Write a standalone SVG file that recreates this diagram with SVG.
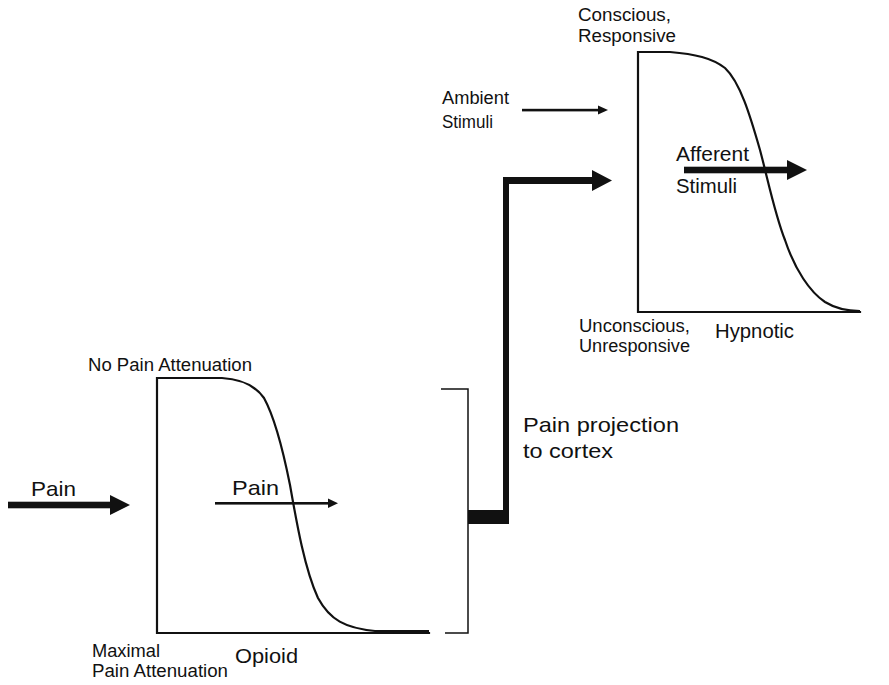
<svg xmlns="http://www.w3.org/2000/svg" width="889" height="685" viewBox="0 0 889 685">
  <style>
    text { font-family: "Liberation Sans", Arial, Helvetica, sans-serif; fill: #111; }
    .sm { font-size: 17.5px; }
    .lg { font-size: 21px; }
    .axis { fill: none; stroke: #111; stroke-width: 2.2; stroke-linecap: square; }
    .curve { fill: none; stroke: #111; stroke-width: 2.2; stroke-linejoin: round; }
    .ink { fill: #111; }
    .thin { fill: none; stroke: #111; stroke-width: 1.5; }
  </style>
  <rect width="889" height="685" fill="#fff"/>

  <!-- Opioid dose-response plot -->
  <g id="opioid-plot">
    <path class="axis" d="M157,378 V633 H395"/>
    <path class="axis" d="M395,633 H429" stroke-width="3.5"/>
    <path class="curve" d="M157,378 H222 C240,379 254,384 264,398 C275,418 283,450 290,485 C297,525 305,570 318,598 C330,620 345,628 375,631 H429"/>
    <text class="sm" x="88" y="371" textLength="164" lengthAdjust="spacingAndGlyphs">No Pain Attenuation</text>
    <text class="sm" x="92" y="657" textLength="68" lengthAdjust="spacingAndGlyphs">Maximal</text>
    <text class="sm" x="92" y="677" textLength="136" lengthAdjust="spacingAndGlyphs">Pain Attenuation</text>
    <text class="lg" x="235" y="663" textLength="63" lengthAdjust="spacingAndGlyphs">Opioid</text>
  </g>

  <!-- Hypnotic dose-response plot -->
  <g id="hypnotic-plot">
    <path class="axis" d="M638,52 V312 H860"/>
    <path class="curve" d="M638,52 H670 C695,54 712,58 725,68 C740,82 750,115 760,150 C768,180 775,215 785,240 C795,270 810,292 825,302 C838,310 850,311 860,311"/>
    <text class="sm" x="578" y="21" textLength="93" lengthAdjust="spacingAndGlyphs">Conscious,</text>
    <text class="sm" x="578" y="42" textLength="98" lengthAdjust="spacingAndGlyphs">Responsive</text>
    <text class="sm" x="579" y="332" textLength="111" lengthAdjust="spacingAndGlyphs">Unconscious,</text>
    <text class="sm" x="579" y="352" textLength="111" lengthAdjust="spacingAndGlyphs">Unresponsive</text>
    <text class="lg" x="715" y="338" textLength="79" lengthAdjust="spacingAndGlyphs">Hypnotic</text>
  </g>

  <!-- Input label nodes -->
  <g id="pain-input">
    <text class="lg" x="31" y="496" font-size="22" textLength="45" lengthAdjust="spacingAndGlyphs">Pain</text>
  </g>
  <g id="pain-through">
    <text class="lg" x="232" y="495" font-size="22" textLength="47" lengthAdjust="spacingAndGlyphs">Pain</text>
  </g>
  <g id="ambient-stimuli">
    <text class="sm" x="442" y="104" textLength="67" lengthAdjust="spacingAndGlyphs">Ambient</text>
    <text class="sm" x="442" y="128" textLength="51" lengthAdjust="spacingAndGlyphs">Stimuli</text>
  </g>
  <g id="afferent-stimuli">
    <text class="lg" x="676" y="161" textLength="73" lengthAdjust="spacingAndGlyphs">Afferent</text>
    <text class="lg" x="676" y="193" textLength="61" lengthAdjust="spacingAndGlyphs">Stimuli</text>
  </g>
  <g id="pain-projection">
    <text class="lg" x="523" y="432" textLength="156" lengthAdjust="spacingAndGlyphs">Pain projection</text>
    <text class="lg" x="523" y="458" textLength="90" lengthAdjust="spacingAndGlyphs">to cortex</text>
  </g>

  <!-- Connectors -->
  <g id="connectors">
    <!-- incoming pain -->
    <rect class="ink" x="8" y="501.7" width="103" height="6.6"/>
    <polygon class="ink" points="110,495 130,505 110,515"/>
    <!-- pain crossing opioid curve -->
    <rect class="ink" x="215" y="502" width="114" height="2.6"/>
    <polygon class="ink" points="328,498.5 338,503.3 328,508"/>
    <!-- bracket over opioid output -->
    <polyline class="thin" points="441,389 468,389 468,633 445,633"/>
    <!-- projection to cortex -->
    <polygon class="ink" points="468,510 503,510 503,177 592,177 592,170 612,180.5 592,191 592,184 509,184 509,524 468,524"/>
    <!-- ambient stimuli -->
    <rect class="ink" x="522" y="108.8" width="77" height="2.6"/>
    <polygon class="ink" points="598,105.5 608,110 598,114.5"/>
    <!-- afferent stimuli -->
    <rect class="ink" x="684" y="166.7" width="104" height="6.6"/>
    <polygon class="ink" points="787,160 807,170 787,180"/>
  </g>
</svg>
